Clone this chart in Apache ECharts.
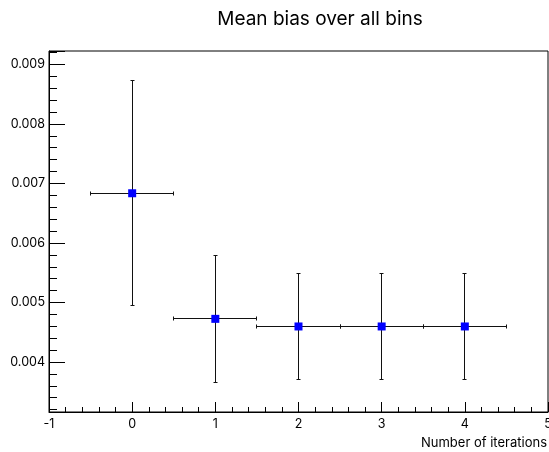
<!DOCTYPE html>
<html>
<head>
<meta charset="utf-8">
<script src="https://cdn.jsdelivr.net/npm/echarts@6/dist/echarts.min.js"></script>
<style>
  html, body { margin: 0; padding: 0; background: #ffffff; }
  #chart { width: 549px; height: 452px; }
</style>
</head>
<body>
<div id="chart"></div>
<script>
// Mean bias per number of unfolding iterations, with symmetric errors
const iterations = [0, 1, 2, 3, 4];
const meanBias = [0.006835, 0.004725, 0.004597, 0.004597, 0.004597];
const biasError = [0.00189, 0.001068, 0.000887, 0.000895, 0.000897];
const iterHalfWidth = [0.5, 0.5, 0.5, 0.5, 0.5];

const FONT = 'Inter';

const points = iterations.map((it, i) => [it, meanBias[i], biasError[i], iterHalfWidth[i]]);

const chart = echarts.init(document.getElementById('chart'), null, { renderer: 'canvas' });

function crisp(v) { return Math.round(v - 0.5) + 0.5; }

chart.setOption({
  animation: false,
  backgroundColor: '#ffffff',
  title: {
    text: 'Mean bias over all bins',
    left: 320,
    textAlign: 'center',
    top: 10,
    padding: 0,
    textStyle: { fontFamily: FONT, fontSize: 19, fontWeight: 'normal', color: '#000' }
  },
  grid: {
    left: 49, right: 1, top: 51, bottom: 40,
    containLabel: false,
    outerBoundsMode: 'none',
    show: true, borderColor: '#000', borderWidth: 1, backgroundColor: 'transparent'
  },
  xAxis: {
    type: 'value',
    min: -1, max: 5, interval: 1,
    name: 'Number of iterations',
    nameLocation: 'end',
    nameGap: 0,
    nameTextStyle: {
      fontFamily: FONT, fontSize: 13, color: '#000',
      align: 'right', verticalAlign: 'top', padding: [25, 1, 0, 0]
    },
    axisLine: { show: true, onZero: false, lineStyle: { color: '#000', width: 1 } },
    axisTick: { show: true, inside: true, length: 10, lineStyle: { color: '#000' } },
    minorTick: { show: true, splitNumber: 5, length: 5, lineStyle: { color: '#000' } },
    axisLabel: { fontFamily: FONT, fontSize: 12.5, color: '#000', margin: 6 },
    splitLine: { show: false },
    minorSplitLine: { show: false }
  },
  yAxis: {
    type: 'value',
    min: 0.00316, max: 0.009225,
    axisLine: { show: true, onZero: false, lineStyle: { color: '#000', width: 1 } },
    axisTick: { show: true, inside: true, length: 16, lineStyle: { color: '#000' } },
    minorTick: { show: true, splitNumber: 5, length: 8, lineStyle: { color: '#000' } },
    axisLabel: {
      fontFamily: FONT, fontSize: 12.5, color: '#000', margin: 4,
      showMinLabel: false, showMaxLabel: false,
      formatter: v => v.toFixed(3)
    },
    splitLine: { show: false },
    minorSplitLine: { show: false }
  },
  series: [
    {
      type: 'custom',
      data: points,
      z: 2,
      renderItem(params, api) {
        const x = api.value(0), y = api.value(1), ey = api.value(2), ex = api.value(3);
        const c = api.coord([x, y]);
        const top = api.coord([x, y + ey]);
        const bot = api.coord([x, y - ey]);
        const lft = api.coord([x - ex, y]);
        const rgt = api.coord([x + ex, y]);
        const cx = crisp(c[0]), cy = crisp(c[1]);
        const ty = crisp(top[1]), by = crisp(bot[1]);
        const lx = crisp(lft[0]), rx = crisp(rgt[0]);
        const cap = 2;
        const style = { stroke: '#111', lineWidth: 1 };
        const seg = (x1, y1, x2, y2) => ({ type: 'line', shape: { x1, y1, x2, y2 }, style });
        return {
          type: 'group',
          children: [
            seg(cx, ty, cx, by),
            seg(cx - cap, ty, cx + cap, ty),
            seg(cx - cap, by, cx + cap, by),
            seg(lx, cy, rx, cy),
            seg(lx, cy - cap, lx, cy + cap),
            seg(rx, cy - cap, rx, cy + cap)
          ]
        };
      }
    },
    {
      type: 'scatter',
      data: points.map(p => [p[0], p[1]]),
      symbol: 'rect',
      symbolSize: 8,
      itemStyle: { color: '#0000ff', opacity: 1 },
      z: 3
    }
  ]
});
</script>
</body>
</html>
